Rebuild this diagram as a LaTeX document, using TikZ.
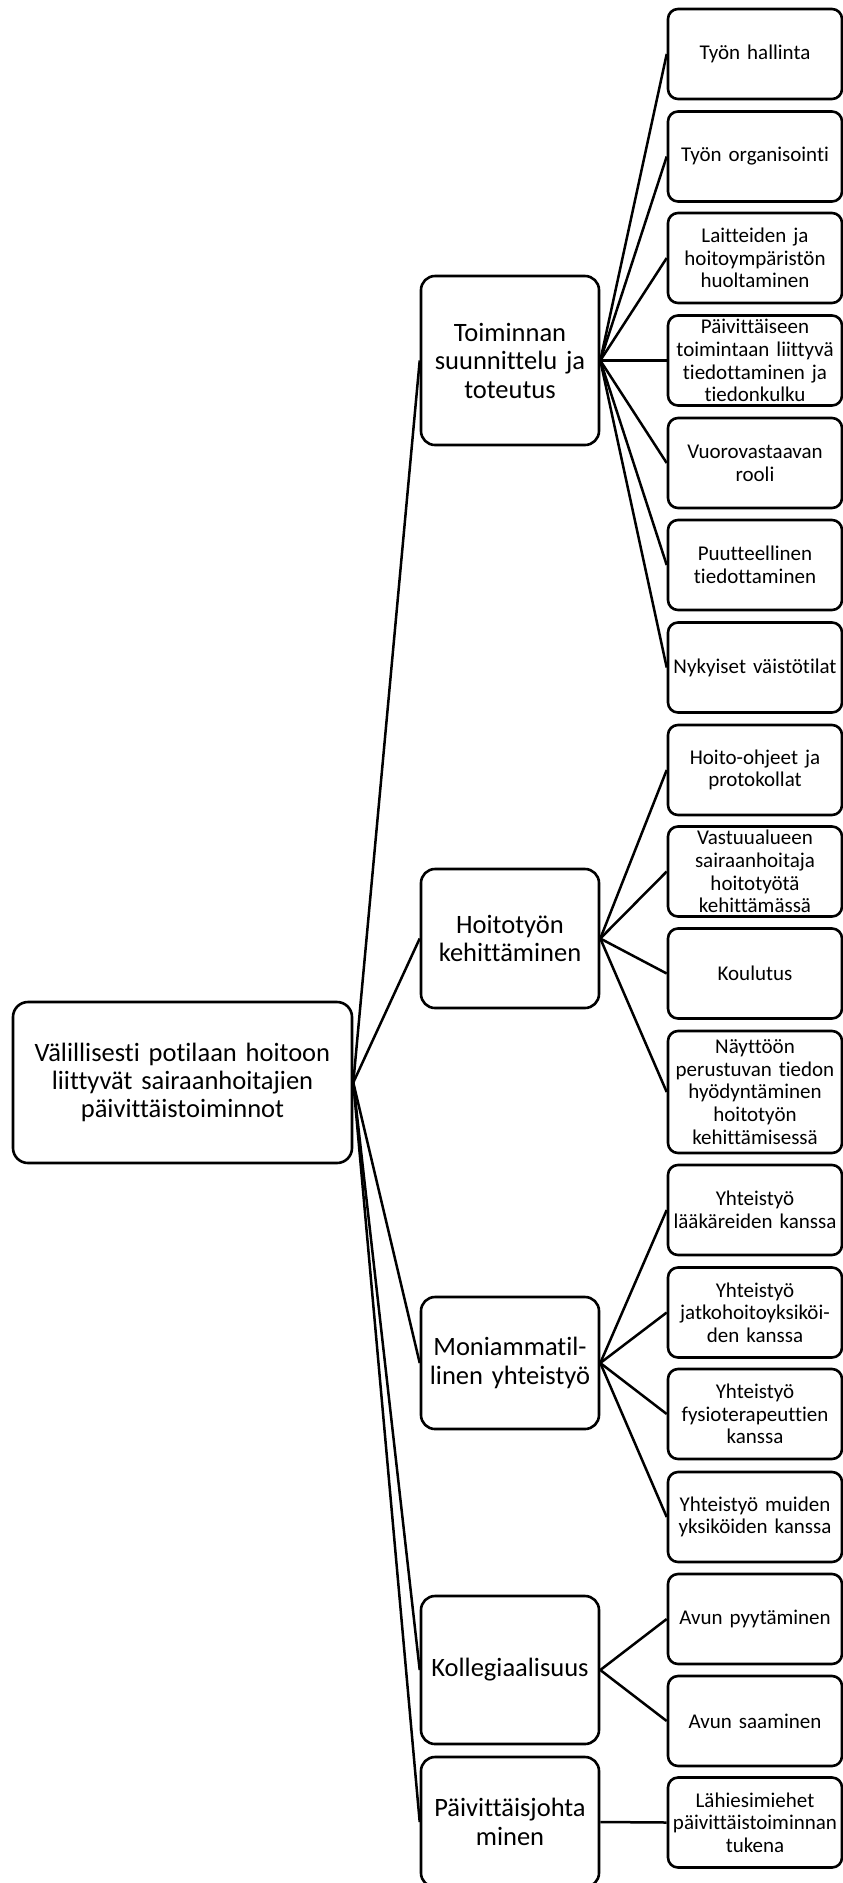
\documentclass[tikz,border=0pt]{standalone}
\usepackage{fontspec}
\setmainfont{Carlito}[Ligatures={NoCommon,NoRequired,NoContextual}]
\usetikzlibrary{positioning}

\begin{document}
\begin{tikzpicture}[
      x=1pt, y=-1pt,
      rootbox/.style={draw, line width=2.6pt, rounded corners=15pt, align=center, text width=325pt, minimum width=339pt, minimum height=161pt, inner sep=0pt, font=\fontsize{26.5}{28}\selectfont},
      midbox/.style={draw, line width=2.6pt, rounded corners=14pt, align=center, text width=172pt, minimum width=178pt, inner sep=0pt, font=\fontsize{26.5}{28.5}\selectfont},
      leafbox/.style={draw, line width=2.6pt, rounded corners=10pt, align=center, text width=170pt, minimum width=174pt, minimum height=90pt, inner sep=0pt, font=\fontsize{21}{22.7}\selectfont},
      link/.style={line width=2.5pt, black}
    ]
      % Page frame
      \useasboundingbox (0,0) rectangle (843,1883);

      % Root node
      \node[rootbox]
        (root)
        at
        (182.5,1082.5)
        {Välillisesti potilaan hoitoon\\liittyvät sairaanhoitajien\\päivittäistoiminnot};

      % Middle level
      \node[midbox, minimum height=169pt]
        (toiminta)
        at
        (510,360.5)
        {Toiminnan\\suunnittelu ja\\toteutus};

      \node[midbox, minimum height=139pt]
        (kehitys)
        at
        (510,938.5)
        {Hoitotyön\\kehittäminen};

      \node[midbox, minimum height=132pt]
        (yhteistyo)
        at
        (510,1363)
        {Moniammatil-\\linen yhteistyö};

      \node[midbox, minimum height=148pt]
        (kollegat)
        at
        (510,1670)
        {Kollegiaalisuus};

      \node[midbox, minimum height=130pt]
        (johtaminen)
        at
        (510,1822)
        {Päivittäisjohta\\minen};

      % Leaves of Toiminnan suunnittelu ja toteutus
      \node[leafbox] (hallinta) at (755,54) {Työn hallinta};
      \node[leafbox] (organisointi) at (755,156.5) {Työn organisointi};
      \node[leafbox] (laitteet) at (755,258) {Laitteiden ja\\hoitoympäristön\\huoltaminen};
      \node[leafbox] (tiedonkulku) at (755,360.5) {Päivittäiseen\\toimintaan liittyvä\\tiedottaminen ja\\tiedonkulku};
      \node[leafbox] (vuoro) at (755,463) {Vuorovastaavan\\rooli};
      \node[leafbox] (puute) at (755,565) {Puutteellinen\\tiedottaminen};
      \node[leafbox] (tilat) at (755,667.5) {Nykyiset väistötilat};

      % Leaves of Hoitotyön kehittäminen
      \node[leafbox] (ohjeet) at (755,770) {Hoito-ohjeet ja\\protokollat};
      \node[leafbox] (vastuu) at (755,871.5) {Vastuualueen\\sairaanhoitaja\\hoitotyötä\\kehittämässä};
      \node[leafbox] (koulutus) at (755,973.5) {Koulutus};
      \node[leafbox, minimum height=122pt] (naytto) at (755,1092) {Näyttöön\\perustuvan tiedon\\hyödyntäminen\\hoitotyön\\kehittämisessä};

      % Leaves of Moniammatillinen yhteistyö
      \node[leafbox] (laakarit) at (755,1210) {Yhteistyö\\lääkäreiden kanssa};
      \node[leafbox] (jatkohoito) at (755,1312.5) {Yhteistyö\\jatkohoitoyksiköi-\\den kanssa};
      \node[leafbox] (fysio) at (755,1414) {Yhteistyö\\fysioterapeuttien\\kanssa};
      \node[leafbox] (muut) at (755,1517) {Yhteistyö muiden\\yksiköiden kanssa};

      % Leaves of Kollegiaalisuus and Päivittäisjohtaminen
      \node[leafbox] (pyynto) at (755,1619) {Avun pyytäminen};
      \node[leafbox] (saanti) at (755,1721) {Avun saaminen};
      \node[leafbox] (esimiehet) at (755,1822.5) {Lähiesimiehet\\päivittäistoiminnan\\tukena};

      % Root to middle level
      \draw[link] (root.east) -- (toiminta.west);
      \draw[link] (root.east) -- (kehitys.west);
      \draw[link] (root.east) -- (yhteistyo.west);
      \draw[link] (root.east) -- (kollegat.west);
      \draw[link] (root.east) -- (johtaminen.west);

      % Middle level to leaves
      \draw[link] (toiminta.east) -- (hallinta.west);
      \draw[link] (toiminta.east) -- (organisointi.west);
      \draw[link] (toiminta.east) -- (laitteet.west);
      \draw[link] (toiminta.east) -- (tiedonkulku.west);
      \draw[link] (toiminta.east) -- (vuoro.west);
      \draw[link] (toiminta.east) -- (puute.west);
      \draw[link] (toiminta.east) -- (tilat.west);

      \draw[link] (kehitys.east) -- (ohjeet.west);
      \draw[link] (kehitys.east) -- (vastuu.west);
      \draw[link] (kehitys.east) -- (koulutus.west);
      \draw[link] (kehitys.east) -- (naytto.west);

      \draw[link] (yhteistyo.east) -- (laakarit.west);
      \draw[link] (yhteistyo.east) -- (jatkohoito.west);
      \draw[link] (yhteistyo.east) -- (fysio.west);
      \draw[link] (yhteistyo.east) -- (muut.west);

      \draw[link] (kollegat.east) -- (pyynto.west);
      \draw[link] (kollegat.east) -- (saanti.west);

      \draw[link] (johtaminen.east) -- (esimiehet.west);
    \end{tikzpicture}
\end{document}
